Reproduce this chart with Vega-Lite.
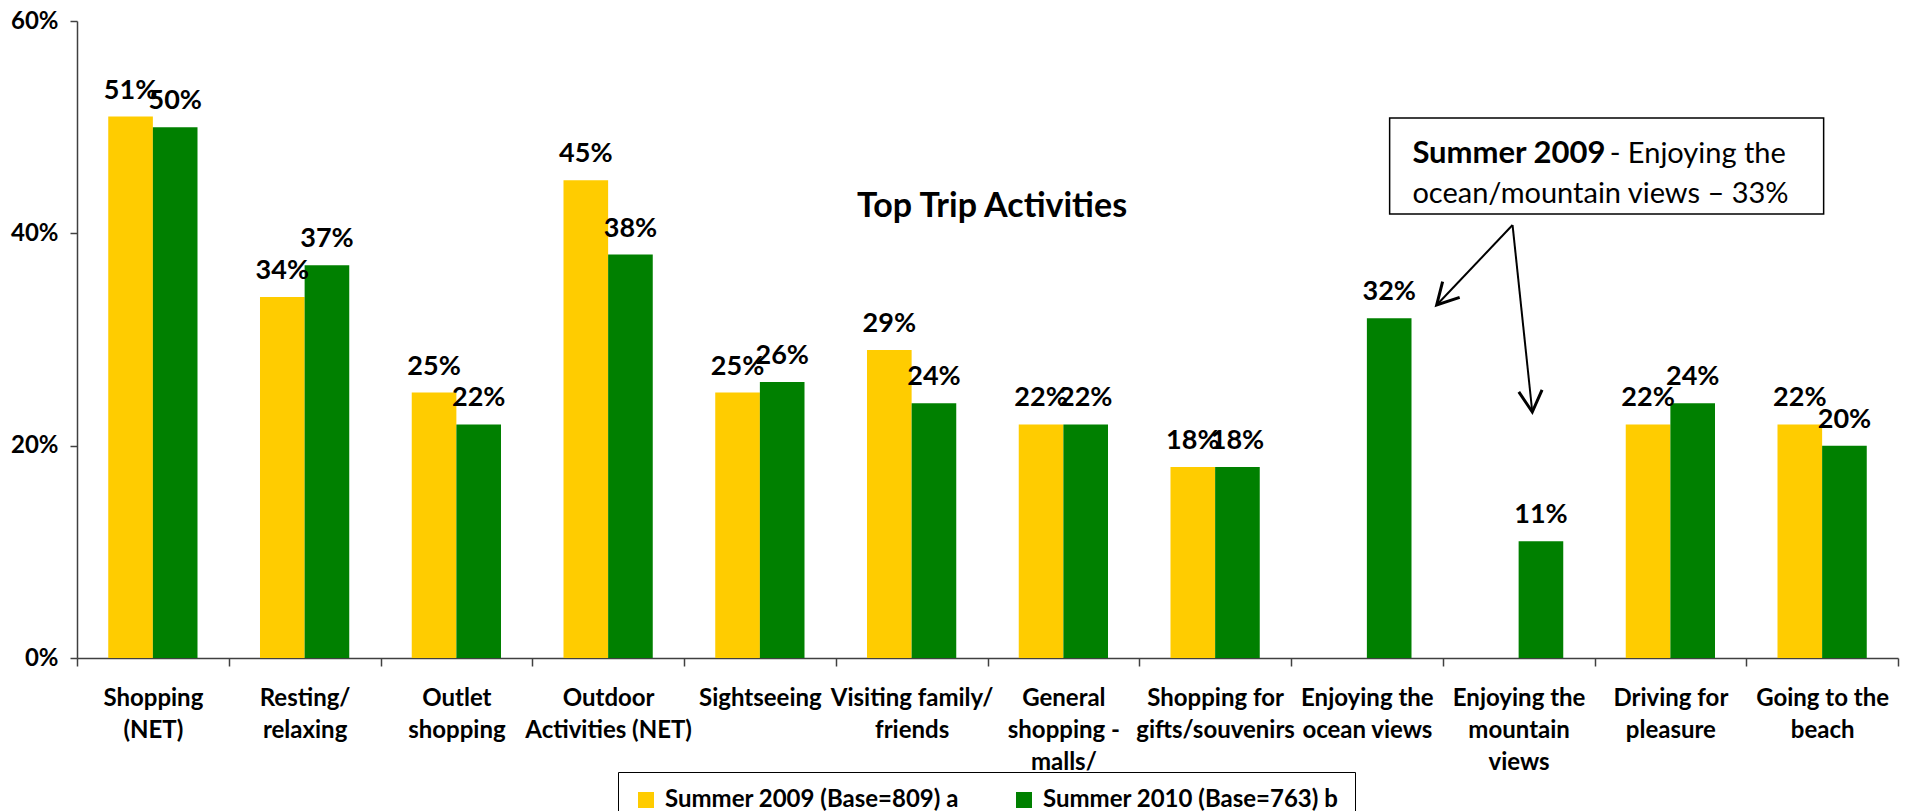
{
  "$schema": "https://vega.github.io/schema/vega-lite/v6.json",
  "width": 1821,
  "height": 637,
  "autosize": {"type": "none"},
  "padding": {"left": 77, "top": 21, "right": 12, "bottom": 153},
  "background": "white",
  "config": {
    "font": "Lato",
    "view": {"stroke": null},
    "axisY": {"grid": false, "labelFontSize": 24, "labelFontWeight": "bold", "labelColor": "black", "labelPadding": 12, "tickSize": 7, "tickColor": "#404040", "tickWidth": 1.5, "domainColor": "#404040", "domainWidth": 1.5}
  },
  "layer": [
    {
      "data": {
        "values": [
          {"activity": "Shopping\n(NET)", "series": "Summer 2009 (Base=809) a", "pct": 0.51},
          {"activity": "Shopping\n(NET)", "series": "Summer 2010 (Base=763) b", "pct": 0.50},
          {"activity": "Resting/\nrelaxing", "series": "Summer 2009 (Base=809) a", "pct": 0.34},
          {"activity": "Resting/\nrelaxing", "series": "Summer 2010 (Base=763) b", "pct": 0.37},
          {"activity": "Outlet\nshopping", "series": "Summer 2009 (Base=809) a", "pct": 0.25},
          {"activity": "Outlet\nshopping", "series": "Summer 2010 (Base=763) b", "pct": 0.22},
          {"activity": "Outdoor\nActivities (NET)", "series": "Summer 2009 (Base=809) a", "pct": 0.45},
          {"activity": "Outdoor\nActivities (NET)", "series": "Summer 2010 (Base=763) b", "pct": 0.38},
          {"activity": "Sightseeing", "series": "Summer 2009 (Base=809) a", "pct": 0.25},
          {"activity": "Sightseeing", "series": "Summer 2010 (Base=763) b", "pct": 0.26},
          {"activity": "Visiting family/\nfriends", "series": "Summer 2009 (Base=809) a", "pct": 0.29},
          {"activity": "Visiting family/\nfriends", "series": "Summer 2010 (Base=763) b", "pct": 0.24},
          {"activity": "General\nshopping -\nmalls/", "series": "Summer 2009 (Base=809) a", "pct": 0.22},
          {"activity": "General\nshopping -\nmalls/", "series": "Summer 2010 (Base=763) b", "pct": 0.22},
          {"activity": "Shopping for\ngifts/souvenirs", "series": "Summer 2009 (Base=809) a", "pct": 0.18},
          {"activity": "Shopping for\ngifts/souvenirs", "series": "Summer 2010 (Base=763) b", "pct": 0.18},
          {"activity": "Enjoying the\nocean views", "series": "Summer 2010 (Base=763) b", "pct": 0.32},
          {"activity": "Enjoying the\nmountain\nviews", "series": "Summer 2010 (Base=763) b", "pct": 0.11},
          {"activity": "Driving for\npleasure", "series": "Summer 2009 (Base=809) a", "pct": 0.22},
          {"activity": "Driving for\npleasure", "series": "Summer 2010 (Base=763) b", "pct": 0.24},
          {"activity": "Going to the\nbeach", "series": "Summer 2009 (Base=809) a", "pct": 0.22},
          {"activity": "Going to the\nbeach", "series": "Summer 2010 (Base=763) b", "pct": 0.20}
        ]
      },
      "encoding": {
        "x": {
          "field": "activity", "type": "nominal", "sort": null,
          "scale": {"paddingInner": 0, "paddingOuter": 0},
          "axis": {
            "title": null, "labelAngle": 0, "labelExpr": "split(datum.label, '\\n')",
            "labelFontSize": 24, "labelFontWeight": "bold", "labelColor": "black",
            "labelLineHeight": 32, "labelPadding": 20, "labelLimit": 400, "labelOverlap": false,
            "tickBand": "extent", "tickSize": 8, "tickColor": "#404040", "tickWidth": 1.5,
            "domainColor": "#404040", "domainWidth": 1.5
          }
        },
        "xOffset": {
          "field": "series", "type": "nominal",
          "scale": {"paddingOuter": 0.7, "paddingInner": 0}
        },
        "y": {
          "field": "pct", "type": "quantitative",
          "scale": {"domain": [0, 0.6], "nice": false},
          "axis": {"title": null, "values": [0, 0.2, 0.4, 0.6], "format": ".0%"}
        }
      },
      "layer": [
        {
          "mark": {"type": "bar"},
          "encoding": {
            "color": {
              "field": "series", "type": "nominal",
              "scale": {"range": ["#FFCC00", "#008000"]},
              "legend": {
                "title": null, "orient": "none", "legendX": 541, "legendY": 751,
                "direction": "horizontal", "strokeColor": "black", "fillColor": "white",
                "padding": 16, "symbolType": "square", "symbolSize": 256, "symbolStrokeWidth": 0,
                "labelFontSize": 24, "labelFontWeight": "bold", "labelColor": "black",
                "labelLimit": 500, "labelOffset": 7, "columnPadding": 53
              }
            }
          }
        },
        {
          "mark": {"type": "text", "dy": -18, "baseline": "alphabetic", "fontSize": 27, "fontWeight": "bold", "color": "black"},
          "encoding": {
            "text": {"field": "pct", "type": "quantitative", "format": ".0%"}
          }
        }
      ]
    },
    {
      "data": {"values": [{"x": 8.65, "x2": 11.51, "y": 0.5086, "y2": 0.4182}]},
      "mark": {"type": "rect", "fill": "white", "stroke": "black", "strokeWidth": 1.5},
      "encoding": {
        "x": {"field": "x", "type": "quantitative", "scale": {"domain": [0, 12], "nice": false}, "axis": null},
        "x2": {"field": "x2"},
        "y": {"field": "y", "type": "quantitative", "axis": {"title": null, "values": [0, 0.2, 0.4, 0.6], "format": ".0%"}},
        "y2": {"field": "y2"}
      }
    },
    {
      "data": {"values": [{"x": 8.8, "y": 0.4662, "t": "Summer 2009"}]},
      "mark": {"type": "text", "align": "left", "baseline": "alphabetic", "fontSize": 31, "fontWeight": "bold", "color": "black"},
      "encoding": {
        "x": {"field": "x", "type": "quantitative", "scale": {"domain": [0, 12], "nice": false}, "axis": null},
        "y": {"field": "y", "type": "quantitative", "axis": {"title": null, "values": [0, 0.2, 0.4, 0.6], "format": ".0%"}},
        "text": {"field": "t"}
      }
    },
    {
      "data": {"values": [
        {"x": 10.1, "y": 0.4662, "t": "- Enjoying the"},
        {"x": 8.8, "y": 0.4286, "t": "ocean/mountain views – 33%"}
      ]},
      "mark": {"type": "text", "align": "left", "baseline": "alphabetic", "fontSize": 29, "fontWeight": "normal", "color": "black"},
      "encoding": {
        "x": {"field": "x", "type": "quantitative", "scale": {"domain": [0, 12], "nice": false}, "axis": null},
        "y": {"field": "y", "type": "quantitative", "axis": {"title": null, "values": [0, 0.2, 0.4, 0.6], "format": ".0%"}},
        "text": {"field": "t"}
      }
    },
    {
      "data": {"values": [{"x": 6.03, "y": 0.425, "t": "Top Trip Activities"}]},
      "mark": {"type": "text", "align": "center", "baseline": "middle", "fontSize": 34, "fontWeight": "bold", "color": "black"},
      "encoding": {
        "x": {"field": "x", "type": "quantitative", "scale": {"domain": [0, 12], "nice": false}, "axis": null},
        "y": {"field": "y", "type": "quantitative", "axis": {"title": null, "values": [0, 0.2, 0.4, 0.6], "format": ".0%"}},
        "text": {"field": "t"}
      }
    },
    {
      "data": {"values": [
        {"x": 9.46, "y": 0.4078, "x2": 8.96, "y2": 0.3325},
        {"x": 9.46, "y": 0.4078, "x2": 9.59, "y2": 0.2317}
      ]},
      "mark": {"type": "rule", "color": "black", "strokeWidth": 2},
      "encoding": {
        "x": {"field": "x", "type": "quantitative", "scale": {"domain": [0, 12], "nice": false}, "axis": null},
        "x2": {"field": "x2"},
        "y": {"field": "y", "type": "quantitative", "axis": {"title": null, "values": [0, 0.2, 0.4, 0.6], "format": ".0%"}},
        "y2": {"field": "y2"}
      }
    },
    {
      "data": {"values": [{"x": 8.96, "y": 0.3325}]},
      "mark": {"type": "point", "shape": "M-0.55,-1L0,0L0.55,-1", "filled": false, "stroke": "black", "strokeWidth": 3, "size": 1800, "angle": 43, "opacity": 1},
      "encoding": {
        "x": {"field": "x", "type": "quantitative", "scale": {"domain": [0, 12], "nice": false}, "axis": null},
        "y": {"field": "y", "type": "quantitative", "axis": {"title": null, "values": [0, 0.2, 0.4, 0.6], "format": ".0%"}}
      }
    },
    {
      "data": {"values": [{"x": 9.59, "y": 0.2317}]},
      "mark": {"type": "point", "shape": "M-0.55,-1L0,0L0.55,-1", "filled": false, "stroke": "black", "strokeWidth": 3, "size": 1800, "angle": -5, "opacity": 1},
      "encoding": {
        "x": {"field": "x", "type": "quantitative", "scale": {"domain": [0, 12], "nice": false}, "axis": null},
        "y": {"field": "y", "type": "quantitative", "axis": {"title": null, "values": [0, 0.2, 0.4, 0.6], "format": ".0%"}}
      }
    }
  ],
  "resolve": {"scale": {"x": "independent"}}
}
